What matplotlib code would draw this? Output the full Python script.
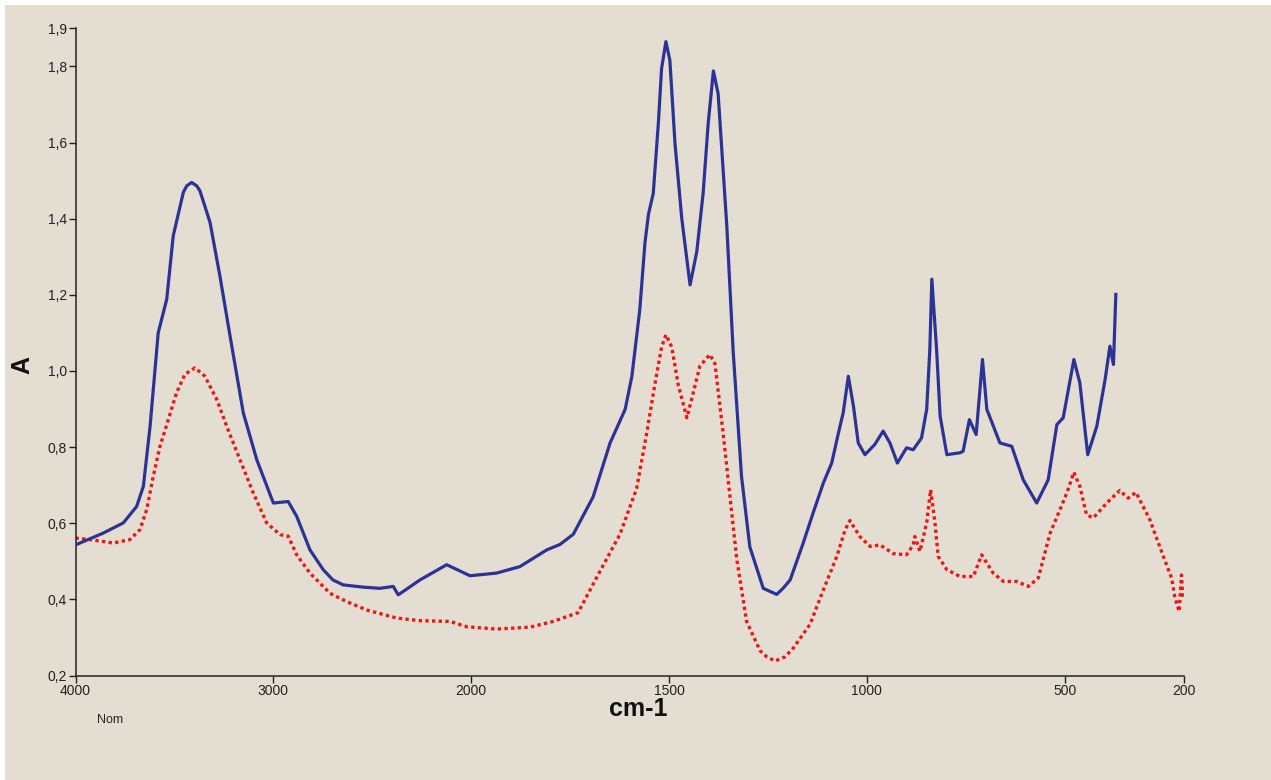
import matplotlib
matplotlib.use('Agg')
import matplotlib.pyplot as plt
import numpy as np
from matplotlib.ticker import FuncFormatter

# IR spectra (wavenumber cm-1, absorbance)
blue_wn = [4000, 3860, 3758, 3691, 3657, 3623, 3582, 3539, 3506, 3455, 3438, 3413, 3387, 3371,
           3320, 3270, 3219, 3152, 3084, 3000, 2925, 2882, 2815, 2748, 2699, 2647, 2545, 2461,
           2394, 2369, 2343, 2259, 2124, 2006, 1936, 1877, 1809, 1776, 1742, 1692, 1649, 1611,
           1594, 1574, 1561, 1552, 1540, 1527, 1519, 1508, 1498, 1485, 1468, 1447, 1430,
           1414, 1401, 1388, 1376, 1354, 1338, 1317, 1296, 1262, 1228, 1211, 1194, 1161, 1136,
           1110, 1089, 1072, 1060, 1047, 1034, 1022, 1005, 980, 959, 942, 923, 900, 883,
           862, 849, 841, 836, 824, 815, 798, 765, 757, 741, 724, 708, 697, 664, 634, 605,
           571, 542, 520, 504, 477, 462, 442, 419, 398, 386, 377, 371]
blue_a = [0.543, 0.574, 0.601, 0.644, 0.697, 0.855, 1.100, 1.188, 1.355, 1.469, 1.486, 1.495,
          1.486, 1.473, 1.390, 1.249, 1.092, 0.890, 0.767, 0.653, 0.657, 0.618, 0.530, 0.478,
          0.451, 0.438, 0.432, 0.429, 0.434, 0.412, 0.421, 0.451, 0.491, 0.462, 0.469, 0.486,
          0.530, 0.544, 0.571, 0.669, 0.811, 0.899, 0.986, 1.161, 1.336, 1.412, 1.466, 1.652,
          1.794, 1.865, 1.816, 1.597, 1.401, 1.226, 1.313, 1.466, 1.652, 1.788, 1.728, 1.379,
          1.051, 0.724, 0.538, 0.429, 0.413, 0.430, 0.451, 0.548, 0.627, 0.706, 0.758, 0.837,
          0.890, 0.986, 0.907, 0.811, 0.780, 0.807, 0.842, 0.811, 0.758, 0.798, 0.793, 0.824,
          0.899, 1.057, 1.241, 1.057, 0.881, 0.780, 0.785, 0.789, 0.872, 0.833, 1.030, 0.899,
          0.811, 0.802, 0.714, 0.653, 0.714, 0.859, 0.877, 1.030, 0.969, 0.780, 0.855, 0.978,
          1.065, 1.017, 1.201]

red_wn = [4000, 3927, 3809, 3725, 3674, 3640, 3607, 3573, 3531, 3489, 3447, 3396, 3346, 3286,
          3236, 3169, 3101, 3034, 2966, 2925, 2882, 2815, 2714, 2629, 2528, 2377, 2259, 2107,
          2023, 1936, 1851, 1793, 1730, 1675, 1624, 1582, 1557, 1536, 1519, 1508, 1493, 1477,
          1455, 1439, 1422, 1397, 1384, 1363, 1346, 1329, 1304, 1270, 1253, 1232, 1207, 1186,
          1144, 1110, 1076, 1055, 1043, 1018, 992, 967, 933, 900, 883, 879, 866, 849, 839, 828,
          820, 798, 765, 731, 710, 681, 655, 622, 592, 567, 537, 512, 495, 477, 462, 445, 428,
          394, 361, 340, 320, 285, 251, 230, 222, 211, 205, 202]
red_a = [0.561, 0.557, 0.548, 0.557, 0.583, 0.636, 0.723, 0.802, 0.872, 0.943, 0.991, 1.008,
         0.986, 0.925, 0.855, 0.767, 0.679, 0.601, 0.570, 0.566, 0.517, 0.469, 0.416, 0.394,
         0.372, 0.351, 0.344, 0.342, 0.328, 0.322, 0.327, 0.342, 0.365, 0.473, 0.571, 0.691,
         0.833, 0.964, 1.062, 1.095, 1.062, 0.964, 0.877, 0.942, 1.013, 1.043, 1.019, 0.833,
         0.669, 0.506, 0.342, 0.265, 0.249, 0.238, 0.249, 0.272, 0.334, 0.425, 0.513, 0.583,
         0.607, 0.565, 0.539, 0.543, 0.520, 0.517, 0.543, 0.565, 0.526, 0.601, 0.688, 0.601,
         0.513, 0.478, 0.460, 0.460, 0.517, 0.469, 0.447, 0.447, 0.434, 0.456, 0.574, 0.636,
         0.679, 0.734, 0.697, 0.622, 0.614, 0.653, 0.686, 0.666, 0.681, 0.609, 0.513, 0.456,
         0.407, 0.368, 0.464, 0.407]

x_ticks = [4000, 3000, 2000, 1500, 1000, 500, 200]
y_ticks = [0.2, 0.4, 0.6, 0.8, 1.0, 1.2, 1.4, 1.6, 1.8, 1.9]

bg = '#e4ddd1'
plt.rcParams['font.family'] = ['Liberation Sans', 'DejaVu Sans']

fig = plt.figure(figsize=(12.71, 7.8), dpi=100, facecolor='white')
# beige paper, with a thin white strip on the top and left edges
fig.patches.append(plt.Rectangle((5 / 1271, 0), 1, 1 - 5 / 780, transform=fig.transFigure,
                                 facecolor=bg, edgecolor='none', zorder=-10))

ax = fig.add_axes([75.5 / 1271, 104.5 / 780, 1108 / 1271, 647.2 / 780])
ax.patch.set_alpha(0)


# spectrometer scale: wavenumbers above 2000 are compressed by half
def fwd(x):
    x = np.asarray(x, dtype=float)
    return np.where(x > 2000, 2000 + (x - 2000) / 2, x)


def inv(u):
    u = np.asarray(u, dtype=float)
    return np.where(u > 2000, 2000 + 2 * (u - 2000), u)


ax.set_xscale('function', functions=(fwd, inv))

ax.plot(blue_wn, blue_a, color='#2c3395', lw=2.3, solid_joinstyle='round', zorder=3)
ax.plot(red_wn, red_a, color='#f01414', lw=2.4, linestyle=(0, (1, 1)), zorder=2)

ax.set_xlim(4000, 200)
ax.set_ylim(0.2, 1.9)

ax.set_xticks(x_ticks)
ax.set_xticks([], minor=True)
ax.set_yticks(y_ticks)
ax.xaxis.set_major_formatter(FuncFormatter(lambda v, p: f'{v:.0f}'))
ax.yaxis.set_major_formatter(FuncFormatter(lambda v, p: f'{v:.1f}'.replace('.', ',')))
ax.tick_params(axis='both', direction='out', length=5, width=1, color='#222222',
               labelsize=10, labelcolor='#222222', pad=1)

for s in ['top', 'right']:
    ax.spines[s].set_visible(False)
for s in ['left', 'bottom']:
    ax.spines[s].set_color('#222222')
    ax.spines[s].set_linewidth(1.1)

ax.set_xlabel('cm-1', fontsize=18, fontweight='bold', color='#111111')
ax.xaxis.set_label_coords((638 - 75.5) / 1108, -0.033)
ax.set_ylabel('A', fontsize=18, fontweight='bold', color='#111111', va='center')
ax.yaxis.set_label_coords((22 - 75.5) / 1108, 0.48)

fig.text(97 / 1271, 1 - 720 / 780, 'Nom', ha='left', va='center', fontsize=9,
         color='#222222')

plt.savefig('out.png', dpi=100, facecolor=fig.get_facecolor())
